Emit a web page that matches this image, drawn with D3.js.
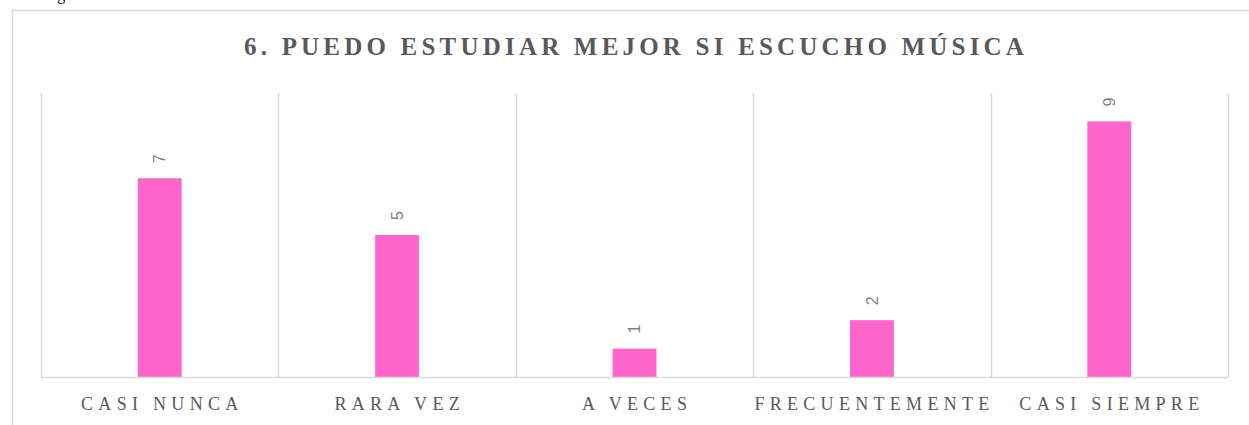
<!DOCTYPE html>
<html>
<head>
<meta charset="utf-8">
<script src="https://cdn.jsdelivr.net/npm/d3@7"></script>
<style>
  html, body { margin: 0; padding: 0; background: #fff; overflow: hidden; }
  svg { display: block; }
</style>
</head>
<body>
<svg id="chart" width="1249" height="425"></svg>
<script>
const title = "6. PUEDO ESTUDIAR MEJOR SI ESCUCHO MÚSICA";
const categories = ["CASI NUNCA", "RARA VEZ", "A VECES", "FRECUENTEMENTE", "CASI SIEMPRE"];
const values = [7, 5, 1, 2, 9];
const yDomain = [0, 10];

const svg = d3.select("#chart");
const plot = { left: 41, right: 1228, top: 93, bottom: 377 };

// partial caption above the chart frame (cut off by the top edge, as in the reference)
svg.append("text")
  .attr("x", 44).attr("y", -0.5)
  .attr("font-family", "Liberation Serif, Times New Roman, serif")
  .attr("font-size", 16).attr("fill", "#000")
  .text("Figura");

// chart frame
svg.append("rect")
  .attr("x", 12.5).attr("y", 10.5)
  .attr("width", 1240).attr("height", 440)
  .attr("fill", "#fff").attr("stroke", "#d9d9d9").attr("stroke-width", 1.5);

const x = d3.scaleBand()
  .domain(categories)
  .range([plot.left, plot.right])
  .paddingInner(0.815)
  .paddingOuter(0.815 / 2);

const y = d3.scaleLinear().domain(yDomain).range([plot.bottom, plot.top]);

const step = x.step();
const boundaries = d3.range(categories.length + 1).map(i => plot.left + i * step);

// vertical category separators
svg.append("g").selectAll("line")
  .data(boundaries)
  .join("line")
  .attr("x1", d => Math.round(d) + 0.5).attr("x2", d => Math.round(d) + 0.5)
  .attr("y1", y(yDomain[1])).attr("y2", y(0))
  .attr("stroke", "#d9d9d9").attr("stroke-width", 1.5);

// bars
svg.append("g").selectAll("rect")
  .data(values)
  .join("rect")
  .attr("x", (d, i) => x(categories[i]))
  .attr("width", x.bandwidth())
  .attr("y", d => y(d))
  .attr("height", d => y(0) - y(d))
  .attr("fill", "#ff66cc");

// baseline
svg.append("line")
  .attr("x1", plot.left).attr("x2", plot.right)
  .attr("y1", y(0) + 0.5).attr("y2", y(0) + 0.5)
  .attr("stroke", "#d9d9d9").attr("stroke-width", 1.5);

// value labels (rotated)
svg.append("g").selectAll("text")
  .data(values)
  .join("text")
  .attr("transform", (d, i) => `translate(${x(categories[i]) + x.bandwidth() / 2},${y(d) - 15}) rotate(-90)`)
  .attr("dy", "0.35em")
  .attr("text-anchor", "start")
  .attr("font-family", "Liberation Sans, Arial, sans-serif")
  .attr("font-size", 16)
  .attr("fill", "#7f7f7f")
  .text(d => d);

// category labels
svg.append("g").selectAll("text")
  .data(categories)
  .join("text")
  .attr("x", d => x(d) + x.bandwidth() / 2 + 2.6)
  .attr("y", 410)
  .attr("text-anchor", "middle")
  .attr("font-family", "Liberation Serif, Times New Roman, serif")
  .attr("font-size", 18)
  .attr("letter-spacing", "5.3px")
  .attr("fill", "#595959")
  .text(d => d);

// title
svg.append("text")
  .attr("x", 634 + 2.1)
  .attr("y", 54.5)
  .attr("text-anchor", "middle")
  .attr("font-family", "Liberation Serif, Times New Roman, serif")
  .attr("font-weight", "bold")
  .attr("font-size", 25)
  .attr("letter-spacing", "4.2px")
  .attr("fill", "#595959")
  .text(title);
</script>
</body>
</html>
